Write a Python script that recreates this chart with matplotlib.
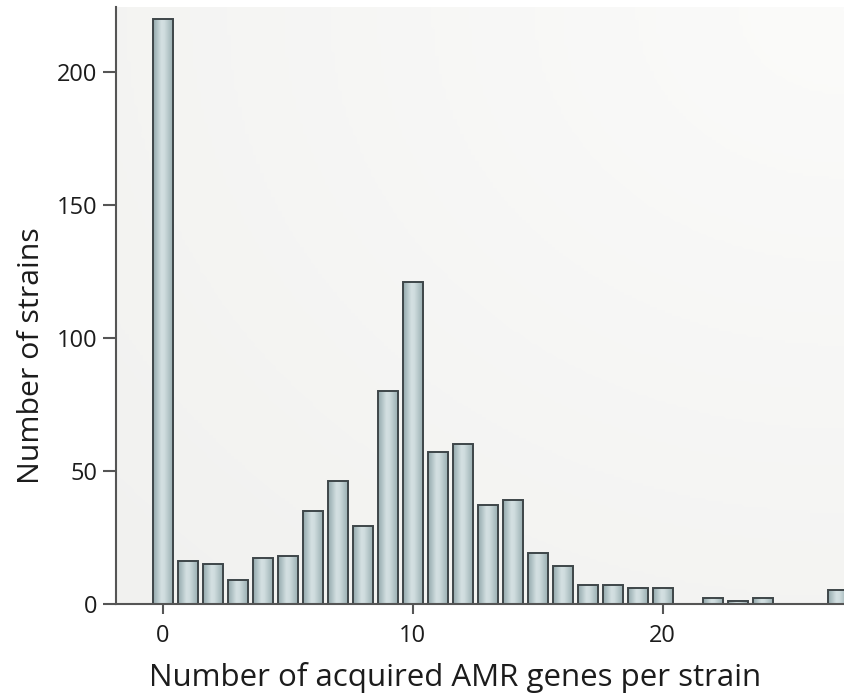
import numpy as np
import matplotlib
matplotlib.use("Agg")
import matplotlib.pyplot as plt
from matplotlib.colors import LinearSegmentedColormap

# ---- data ----
genes = list(range(0, 28))
strains = [220, 16, 15, 9, 17, 18, 35, 46, 29, 80, 121, 57, 60, 37, 39, 19, 14,
           7, 7, 6, 6, 0, 2, 1, 2, 0, 0, 5]
xticks = [0, 10, 20]
yticks = [0, 50, 100, 150, 200]
xlabel = "Number of acquired AMR genes per strain"
ylabel = "Number of strains"

plt.rcParams['font.family'] = ['Open Sans', 'DejaVu Sans']

fig = plt.figure(figsize=(8.44, 6.99), dpi=100)
ax = fig.add_axes([0.1374, 0.1366, 0.8626, 0.8538])
ax.set_xlim(-1.87, 27.25)
ax.set_ylim(0, 224.6)

# background gradient (lighter to top-right)
yy, xx = np.mgrid[0:1:200j, 0:1:200j]
d = np.sqrt((1 - xx) ** 2 + (1 - yy) ** 2) / np.sqrt(2)
bg_cmap = LinearSegmentedColormap.from_list("bg", ["#fbfbfa", "#f1f1ef"])
ax.imshow(d, extent=[0, 1, 0, 1], transform=ax.transAxes, cmap=bg_cmap,
          origin="lower", aspect="auto", zorder=0, interpolation="bilinear")

# bars with cylindrical shading
bar_cmap = LinearSegmentedColormap.from_list(
    "bar", [(0.0, "#93a9ac"), (0.4, "#d4e0e2"), (0.55, "#cfdcde"), (1.0, "#94aaad")])
grad = np.linspace(0, 1, 64).reshape(1, -1)
w = 0.8
for x, h in zip(genes, strains):
    if h <= 0:
        continue
    ax.imshow(grad, extent=[x - w / 2, x + w / 2, 0, h], cmap=bar_cmap,
              aspect="auto", zorder=2, interpolation="bilinear")
ax.bar(genes, strains, width=w, facecolor="none", edgecolor="#3e4649",
       linewidth=1.4, zorder=3)
ax.set_xlim(-1.87, 27.25)
ax.set_ylim(0, 224.6)

for s in ["top", "right"]:
    ax.spines[s].set_visible(False)
for s in ["left", "bottom"]:
    ax.spines[s].set_color("#555555")
    ax.spines[s].set_linewidth(1.5)
    ax.spines[s].set_zorder(4)

ax.set_xticks(xticks)
ax.set_yticks(yticks)
ax.tick_params(axis="x", length=7, width=1.5, color="#555555", pad=8,
               labelsize=17, labelcolor="#1c1c1c")
ax.tick_params(axis="y", length=9.6, width=1.5, color="#555555", pad=3.6,
               labelsize=17, labelcolor="#1c1c1c")

ax.set_xlabel(xlabel, fontsize=22.5, color="#1c1c1c")
ax.xaxis.set_label_coords(0.466, -0.098)
ax.set_ylabel(ylabel, fontsize=21.8, color="#1c1c1c")
ax.yaxis.set_label_coords(-0.096, 0.416)

fig.savefig("out.png", dpi=100)
